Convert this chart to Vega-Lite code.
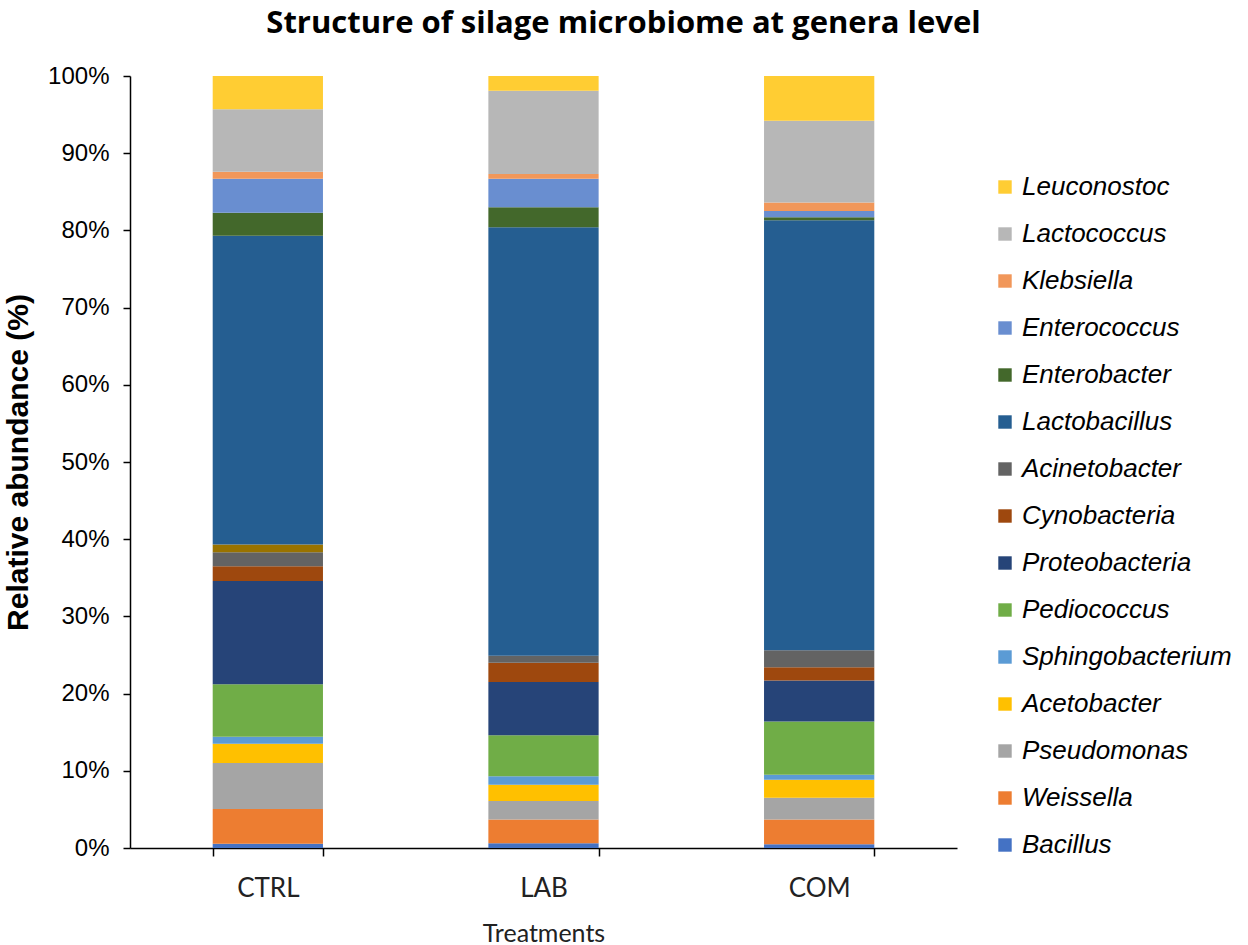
{
  "$schema": "https://vega.github.io/schema/vega-lite/v6.json",
  "autosize": "none",
  "width": 827,
  "height": 772,
  "padding": {"left": 130, "top": 76, "right": 291, "bottom": 97},
  "background": "white",
  "title": {
    "text": "Structure of silage microbiome at genera level",
    "font": "Open Sans",
    "fontSize": 31,
    "fontWeight": "bold",
    "color": "black",
    "anchor": "middle",
    "dx": 80,
    "offset": 24
  },
  "data": {
    "values": [
      {"treatment": "CTRL", "genus": "Bacillus", "k": 1, "abundance": 0.56},
      {"treatment": "CTRL", "genus": "Weissella", "k": 2, "abundance": 4.49},
      {"treatment": "CTRL", "genus": "Pseudomonas", "k": 3, "abundance": 5.95},
      {"treatment": "CTRL", "genus": "Acetobacter", "k": 4, "abundance": 2.5},
      {"treatment": "CTRL", "genus": "Sphingobacterium", "k": 5, "abundance": 0.9},
      {"treatment": "CTRL", "genus": "Pediococcus", "k": 6, "abundance": 6.8},
      {"treatment": "CTRL", "genus": "Proteobacteria", "k": 7, "abundance": 13.4},
      {"treatment": "CTRL", "genus": "Cynobacteria", "k": 8, "abundance": 1.9},
      {"treatment": "CTRL", "genus": "Acinetobacter", "k": 9, "abundance": 1.8},
      {"treatment": "CTRL", "genus": "Other", "k": 10, "abundance": 1.0},
      {"treatment": "CTRL", "genus": "Lactobacillus", "k": 11, "abundance": 40.0},
      {"treatment": "CTRL", "genus": "Enterobacter", "k": 12, "abundance": 3.0},
      {"treatment": "CTRL", "genus": "Enterococcus", "k": 13, "abundance": 4.4},
      {"treatment": "CTRL", "genus": "Klebsiella", "k": 14, "abundance": 0.9},
      {"treatment": "CTRL", "genus": "Lactococcus", "k": 15, "abundance": 8.1},
      {"treatment": "CTRL", "genus": "Leuconostoc", "k": 16, "abundance": 4.3},
      {"treatment": "LAB", "genus": "Bacillus", "k": 1, "abundance": 0.6},
      {"treatment": "LAB", "genus": "Weissella", "k": 2, "abundance": 3.1},
      {"treatment": "LAB", "genus": "Pseudomonas", "k": 3, "abundance": 2.4},
      {"treatment": "LAB", "genus": "Acetobacter", "k": 4, "abundance": 2.1},
      {"treatment": "LAB", "genus": "Sphingobacterium", "k": 5, "abundance": 1.1},
      {"treatment": "LAB", "genus": "Pediococcus", "k": 6, "abundance": 5.3},
      {"treatment": "LAB", "genus": "Proteobacteria", "k": 7, "abundance": 6.9},
      {"treatment": "LAB", "genus": "Cynobacteria", "k": 8, "abundance": 2.5},
      {"treatment": "LAB", "genus": "Acinetobacter", "k": 9, "abundance": 0.9},
      {"treatment": "LAB", "genus": "Other", "k": 10, "abundance": 0},
      {"treatment": "LAB", "genus": "Lactobacillus", "k": 11, "abundance": 55.5},
      {"treatment": "LAB", "genus": "Enterobacter", "k": 12, "abundance": 2.6},
      {"treatment": "LAB", "genus": "Enterococcus", "k": 13, "abundance": 3.7},
      {"treatment": "LAB", "genus": "Klebsiella", "k": 14, "abundance": 0.6},
      {"treatment": "LAB", "genus": "Lactococcus", "k": 15, "abundance": 10.8},
      {"treatment": "LAB", "genus": "Leuconostoc", "k": 16, "abundance": 1.9},
      {"treatment": "COM", "genus": "Bacillus", "k": 1, "abundance": 0.5},
      {"treatment": "COM", "genus": "Weissella", "k": 2, "abundance": 3.2},
      {"treatment": "COM", "genus": "Pseudomonas", "k": 3, "abundance": 2.8},
      {"treatment": "COM", "genus": "Acetobacter", "k": 4, "abundance": 2.35},
      {"treatment": "COM", "genus": "Sphingobacterium", "k": 5, "abundance": 0.65},
      {"treatment": "COM", "genus": "Pediococcus", "k": 6, "abundance": 6.9},
      {"treatment": "COM", "genus": "Proteobacteria", "k": 7, "abundance": 5.3},
      {"treatment": "COM", "genus": "Cynobacteria", "k": 8, "abundance": 1.7},
      {"treatment": "COM", "genus": "Acinetobacter", "k": 9, "abundance": 2.2},
      {"treatment": "COM", "genus": "Other", "k": 10, "abundance": 0},
      {"treatment": "COM", "genus": "Lactobacillus", "k": 11, "abundance": 55.7},
      {"treatment": "COM", "genus": "Enterobacter", "k": 12, "abundance": 0.4},
      {"treatment": "COM", "genus": "Enterococcus", "k": 13, "abundance": 0.8},
      {"treatment": "COM", "genus": "Klebsiella", "k": 14, "abundance": 1.1},
      {"treatment": "COM", "genus": "Lactococcus", "k": 15, "abundance": 10.6},
      {"treatment": "COM", "genus": "Leuconostoc", "k": 16, "abundance": 5.8}
    ]
  },
  "mark": {"type": "bar"},
  "encoding": {
    "x": {
      "field": "treatment",
      "type": "nominal",
      "sort": ["CTRL", "LAB", "COM"],
      "scale": {"paddingInner": 0.6, "paddingOuter": 0.3},
      "axis": {
        "title": "Treatments",
        "labelAngle": 0,
        "tickBand": "extent",
        "domainColor": "black",
        "domainWidth": 1.5,
        "tickColor": "black",
        "tickWidth": 1.5,
        "tickSize": 8,
        "labelFont": "Lato",
        "labelFontSize": 26,
        "labelColor": "#222222",
        "labelPadding": 19,
        "titleFont": "Lato",
        "titleFontSize": 25,
        "titleFontWeight": "normal",
        "titleColor": "#222222",
        "titlePadding": 20
      }
    },
    "y": {
      "field": "abundance",
      "type": "quantitative",
      "stack": "zero",
      "scale": {"domain": [0, 100], "nice": false},
      "axis": {
        "title": "Relative abundance (%)",
        "values": [0, 10, 20, 30, 40, 50, 60, 70, 80, 90, 100],
        "labelExpr": "datum.value + '%'",
        "grid": false,
        "domainColor": "black",
        "domainWidth": 1.5,
        "tickColor": "black",
        "tickWidth": 1.5,
        "tickSize": 7,
        "labelFont": "Liberation Sans",
        "labelFontSize": 24,
        "labelColor": "black",
        "labelPadding": 14,
        "titleFont": "Liberation Sans",
        "titleFontSize": 30,
        "titleFontWeight": "bold",
        "titleColor": "black",
        "titlePadding": 14
      }
    },
    "color": {
      "field": "genus",
      "type": "nominal",
      "scale": {
        "domain": ["Leuconostoc", "Lactococcus", "Klebsiella", "Enterococcus", "Enterobacter", "Lactobacillus", "Other", "Acinetobacter", "Cynobacteria", "Proteobacteria", "Pediococcus", "Sphingobacterium", "Acetobacter", "Pseudomonas", "Weissella", "Bacillus"],
        "range": ["#FFCD33", "#B7B7B7", "#F1975A", "#698ED0", "#43682B", "#255E91", "#997300", "#636363", "#9E480E", "#264478", "#70AD47", "#5B9BD5", "#FFC000", "#A5A5A5", "#ED7D31", "#4472C4"]
      },
      "legend": {
        "title": null,
        "values": ["Leuconostoc", "Lactococcus", "Klebsiella", "Enterococcus", "Enterobacter", "Lactobacillus", "Acinetobacter", "Cynobacteria", "Proteobacteria", "Pediococcus", "Sphingobacterium", "Acetobacter", "Pseudomonas", "Weissella", "Bacillus"],
        "orient": "none",
        "legendX": 862,
        "legendY": 98,
        "symbolType": "square",
        "symbolSize": 180,
        "symbolStrokeWidth": 0,
        "labelFont": "Liberation Sans",
        "labelFontSize": 26,
        "labelFontStyle": "italic",
        "labelColor": "black",
        "labelOffset": 4,
        "labelLimit": 300,
        "rowPadding": 21,
        "padding": 0
      }
    },
    "order": {"field": "k", "type": "quantitative", "sort": "ascending"}
  },
  "config": {
    "view": {"stroke": null}
  }
}
